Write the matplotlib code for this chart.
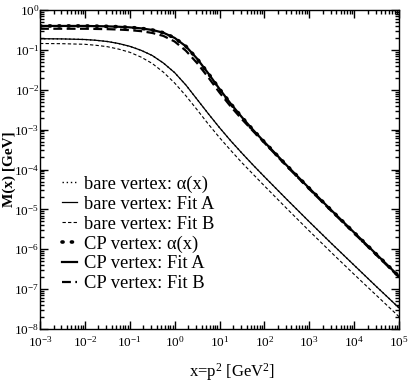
import numpy as np
import matplotlib
matplotlib.use("Agg")
import matplotlib.pyplot as plt

plt.rcParams['font.family'] = ['Liberation Serif', 'DejaVu Serif']
plt.rcParams['mathtext.fontset'] = 'custom'
plt.rcParams['mathtext.rm'] = 'Liberation Serif'
plt.rcParams['mathtext.it'] = 'Liberation Serif:italic'
plt.rcParams['mathtext.bf'] = 'Liberation Serif:bold'
plt.rcParams['axes.unicode_minus'] = False

# log10 of momentum x = p^2 [GeV^2]
log_x = [-3, -2.5, -2, -1.75, -1.5, -1.25, -1, -0.75, -0.5, -0.25, 0, 0.25, 0.5, 0.75,
         1, 1.25, 1.5, 1.75, 2, 2.5, 3, 3.5, 4, 4.5, 5]

# log10 of M(x) [GeV]
bare_alpha = [-0.72, -0.725, -0.74, -0.76, -0.79, -0.84, -0.91, -1.01, -1.14, -1.33, -1.57,
              -1.88, -2.24, -2.60, -2.95, -3.28, -3.59, -3.89, -4.18, -4.75, -5.31, -5.86,
              -6.40, -6.94, -7.47]
bare_fitA = [-0.72, -0.725, -0.74, -0.76, -0.79, -0.84, -0.91, -1.01, -1.14, -1.33, -1.57,
             -1.88, -2.24, -2.60, -2.95, -3.28, -3.59, -3.89, -4.18, -4.75, -5.31, -5.86,
             -6.40, -6.94, -7.47]
bare_fitB = [-0.84, -0.845, -0.86, -0.885, -0.92, -0.98, -1.06, -1.18, -1.34, -1.56, -1.83,
             -2.15, -2.50, -2.86, -3.20, -3.52, -3.83, -4.12, -4.41, -4.98, -5.54, -6.09,
             -6.63, -7.16, -7.69]
cp_alpha = [-0.40, -0.40, -0.40, -0.405, -0.41, -0.42, -0.435, -0.46, -0.50, -0.57, -0.70,
            -0.91, -1.22, -1.59, -1.98, -2.35, -2.69, -3.01, -3.31, -3.90, -4.47, -5.03,
            -5.58, -6.13, -6.68]
cp_fitA = [-0.40, -0.40, -0.40, -0.405, -0.41, -0.42, -0.435, -0.46, -0.50, -0.57, -0.70,
           -0.91, -1.22, -1.59, -1.98, -2.35, -2.69, -3.01, -3.31, -3.90, -4.47, -5.03,
           -5.58, -6.13, -6.68]
cp_fitB = [-0.47, -0.47, -0.47, -0.475, -0.48, -0.49, -0.505, -0.53, -0.575, -0.65, -0.79,
           -1.02, -1.33, -1.69, -2.07, -2.42, -2.74, -3.04, -3.33, -3.92, -4.49, -5.05,
           -5.60, -6.15, -6.70]

x_tick_exp = [-3, -2, -1, 0, 1, 2, 3, 4, 5]
y_tick_exp = [-8, -7, -6, -5, -4, -3, -2, -1, 0]

labels = ["bare vertex: \u03b1(x)", "bare vertex: Fit A", "bare vertex: Fit B",
          "CP vertex: \u03b1(x)", "CP vertex: Fit A", "CP vertex: Fit B"]

x = 10.0 ** np.array(log_x)

fig = plt.figure(figsize=(4.09, 3.82), dpi=100)
ax = fig.add_axes([40/409, 1 - 329/382, 359/409, 319/382])

ax.plot(x, 10.0 ** np.array(bare_fitA), color='black', lw=0.9, label=labels[1], zorder=3)
ax.plot(x, 10.0 ** np.array(bare_alpha), color='black', lw=1.0, ls=(0, (1, 2)), label=labels[0], zorder=4)
ax.plot(x, 10.0 ** np.array(bare_fitB), color='black', lw=0.8, ls=(0, (3, 2)), label=labels[2], zorder=3)
ax.plot(x, 10.0 ** np.array(cp_fitA), color='black', lw=1.6, label=labels[4], zorder=3)
ax.plot(x, 10.0 ** np.array(cp_alpha), color='black', lw=2.6, ls=(0, (0.3, 2.3)),
        dash_capstyle='round', label=labels[3], zorder=5)
ax.plot(x, 10.0 ** np.array(cp_fitB), color='black', lw=1.6, ls=(0, (4, 2)), label=labels[5], zorder=3)

ax.set_xscale('log')
ax.set_yscale('log')
ax.set_xlim(1e-3, 1e5)
ax.set_ylim(1e-8, 1e0)

ax.set_xticks([10.0 ** e for e in x_tick_exp])
ax.set_xticklabels(["$10^{%d}$" % e for e in x_tick_exp])
ax.set_yticks([10.0 ** e for e in y_tick_exp])
ax.set_yticklabels(["$10^{%d}$" % e for e in y_tick_exp])
ax.xaxis.set_minor_locator(matplotlib.ticker.LogLocator(base=10, subs=np.arange(2, 10), numticks=100))
ax.yaxis.set_minor_locator(matplotlib.ticker.LogLocator(base=10, subs=np.arange(2, 10), numticks=100))
ax.xaxis.set_minor_formatter(matplotlib.ticker.NullFormatter())
ax.yaxis.set_minor_formatter(matplotlib.ticker.NullFormatter())

ax.tick_params(which='both', direction='in', top=True, right=True, labelsize=9.5, width=1.0)
ax.tick_params(which='major', length=5.8)
ax.tick_params(which='minor', length=2.9)
ax.tick_params(axis='y', which='major', pad=0.5)
ax.tick_params(axis='x', which='major', pad=4.5)
for s in ax.spines.values():
    s.set_linewidth(1.0)

ax.set_xlabel("x=p$^2$ [GeV$^2$]", fontsize=12)
ax.xaxis.set_label_coords(0.535, -0.1)
ax.set_ylabel("M(x) [GeV]", fontsize=11, fontweight='bold')
ax.yaxis.set_label_coords(-0.0655, 0.5)

handles, labs = ax.get_legend_handles_labels()
order = [labs.index(l) for l in labels]
ax.legend([handles[i] for i in order], [labs[i] for i in order],
          loc='center left', bbox_to_anchor=(0.061, 0.298), frameon=False,
          fontsize=13.3, handlelength=0.8, handletextpad=0.4, labelspacing=0.15,
          borderpad=0, borderaxespad=0)

fig.savefig("out.png", dpi=100)
